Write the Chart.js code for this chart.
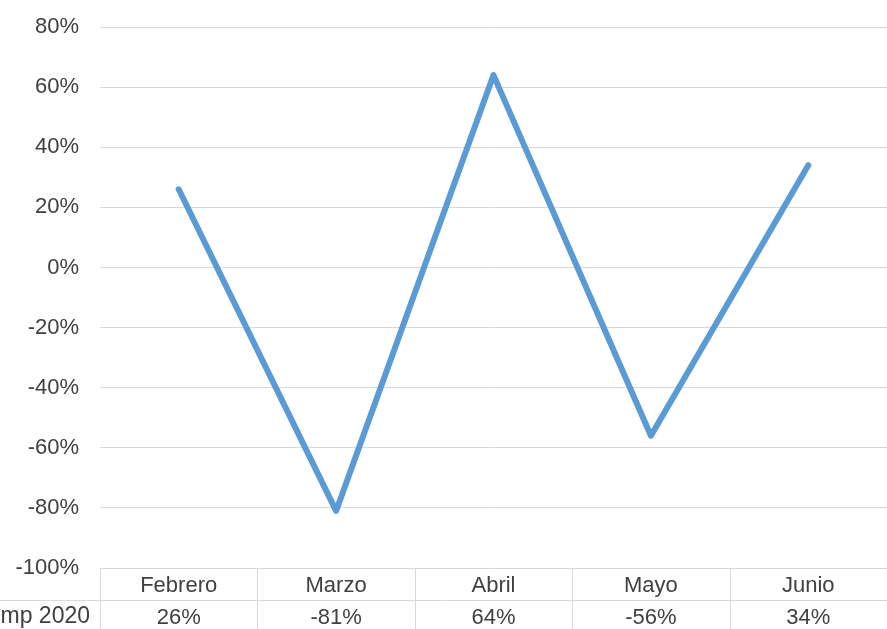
<!DOCTYPE html>
<html>
<head>
<meta charset="utf-8">
<script src="https://cdn.jsdelivr.net/npm/chart.js@4/dist/chart.umd.min.js"></script>
<style>
  body { margin: 0; background: #fff; }
  #wrap { width: 887px; height: 629px; }
</style>
</head>
<body>
<div id="wrap"><canvas id="chart"></canvas></div>
<script>
const months = ["Febrero", "Marzo", "Abril", "Mayo", "Junio"];
const comp2020 = [26, -81, 64, -56, 34];
const rowLabel = "Comp 2020";
const yMin = -100, yMax = 80, yStep = 20;

const gridColor = "#d9d9d9";
const textColor = "#404040";
const font = { family: "'Liberation Sans', Arial, sans-serif", size: 22 };

// data table under the plot (borders + row header)
const dataTable = {
  id: "dataTable",
  afterDraw(chart) {
    const { ctx, chartArea, scales } = chart;
    const x = scales.x;
    const top = chartArea.bottom;
    const mid = top + 32;
    const bottom = chart.height;
    ctx.save();
    ctx.strokeStyle = gridColor;
    ctx.lineWidth = 1;
    ctx.beginPath();
    ctx.moveTo(chartArea.left, top + 0.5);
    ctx.lineTo(chartArea.right, top + 0.5);
    ctx.moveTo(0, mid + 0.5);
    ctx.lineTo(chartArea.right, mid + 0.5);
    for (let i = 0; i <= months.length; i++) {
      let px;
      if (i === 0) px = chartArea.left;
      else if (i === months.length) px = chartArea.right;
      else px = (x.getPixelForValue(i - 1) + x.getPixelForValue(i)) / 2;
      px = Math.round(px) + 0.5;
      ctx.moveTo(px, top);
      ctx.lineTo(px, bottom);
    }
    ctx.stroke();
    ctx.fillStyle = textColor;
    ctx.font = "23px " + font.family;
    ctx.textAlign = "right";
    ctx.textBaseline = "middle";
    ctx.fillText(rowLabel, chartArea.left - 10, mid + 17);
    ctx.restore();
  }
};

new Chart(document.getElementById("chart"), {
  type: "line",
  data: {
    labels: months.map((m, i) => [m, comp2020[i] + "%"]),
    datasets: [{
      label: rowLabel,
      data: comp2020,
      borderColor: "#5b9bd5",
      borderWidth: 6,
      borderJoinStyle: "round",
      borderCapStyle: "round",
      pointRadius: 0,
      tension: 0
    }]
  },
  options: {
    responsive: true,
    maintainAspectRatio: false,
    animation: false,
    layout: { padding: { top: 27, right: 0, bottom: 0, left: 0 } },
    plugins: { legend: { display: false }, tooltip: { enabled: false } },
    scales: {
      x: {
        offset: true,
        grid: { display: false, drawTicks: false },
        border: { display: false },
        ticks: {
          color: textColor,
          font: { ...font, lineHeight: "32px" },
          padding: 2,
          maxRotation: 0
        },
        afterFit(s) { s.height = 61; }
      },
      y: {
        min: yMin,
        max: yMax,
        grid: { color: gridColor, drawTicks: false },
        border: { display: false },
        ticks: {
          stepSize: yStep,
          color: textColor,
          font: font,
          padding: 21,
          callback: v => v + "%"
        },
        afterFit(s) {
          s.width = 100;
          s.paddingTop = 0;
          s.paddingBottom = 0;
        }
      }
    }
  },
  plugins: [dataTable]
});
</script>
</body>
</html>
